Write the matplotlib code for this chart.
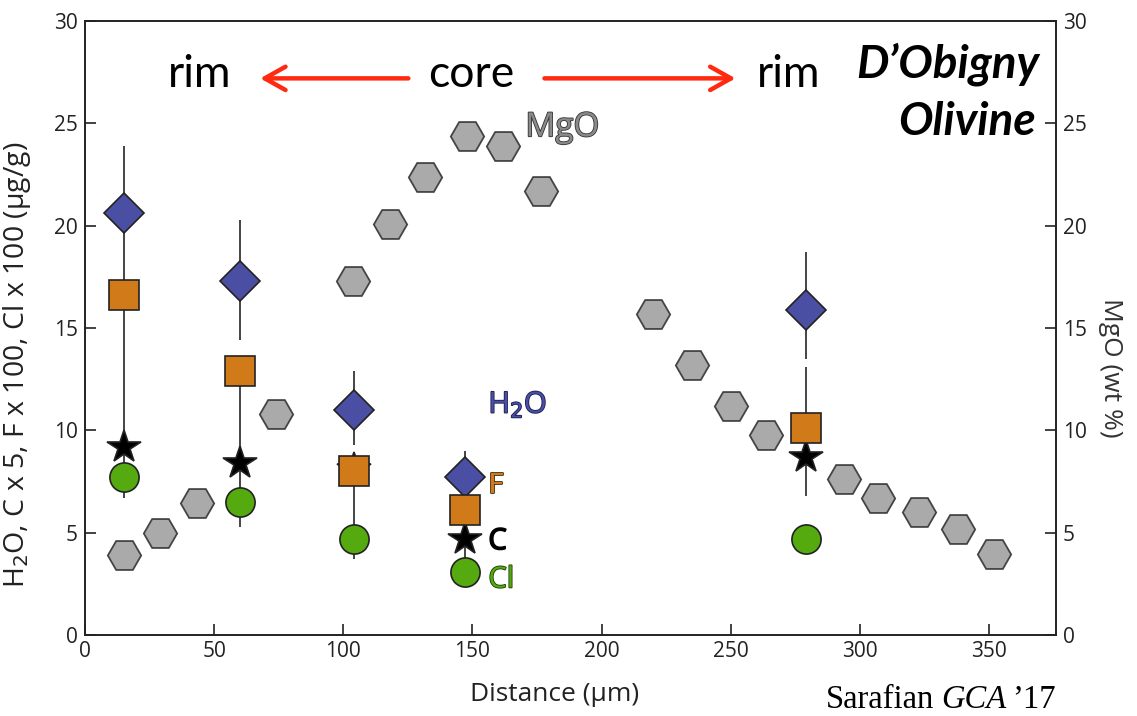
import numpy as np
import matplotlib.pyplot as plt
import matplotlib.patheffects as pe

# trace element profile across the olivine (left axis)
dist = [15, 60, 104, 147, 279]
h2o = [20.6, 17.3, 11.0, 7.7, 15.9]
fluor = [16.6, 12.9, 8.0, 6.1, 10.1]
carbon = [9.2, 8.4, 8.1, 4.7, 8.7]
chlor = [7.7, 6.5, 4.7, 3.1, 4.7]

# uncertainty segments (upper bar around H2O, lower bar down through F/C/Cl)
h2o_lo = [17.3, 14.4, 9.3, 6.9, 13.5]
h2o_hi = [23.9, 20.3, 12.9, 9.0, 18.7]
f_lo = [6.7, 5.3, 3.7, 3.2, 6.8]
f_hi = [16.6, 12.9, 8.0, 6.1, 13.1]

# MgO profile (right axis)
mgo_dist = [15.1, 29.1, 43.3, 74.0, 103.6, 118.2, 131.8, 147.9, 161.9, 176.6,
            219.9, 234.9, 250.0, 263.6, 293.7, 307.2, 323.0, 338.2, 351.8]
mgo = [3.9, 5.0, 6.45, 10.8, 17.3, 20.1, 22.4, 24.4, 23.9, 21.7,
       15.7, 13.2, 11.2, 9.75, 7.6, 6.7, 6.0, 5.2, 3.95]

xticks = [0, 50, 100, 150, 200, 250, 300, 350]
yticks = [0, 5, 10, 15, 20, 25, 30]

BLUE = '#4b4fa3'
ORANGE = '#d07a1a'
GREEN = '#55aa10'
GREY = '#aaaaaa'
EDGE = '#222222'

plt.rcParams['font.family'] = ['Open Sans', 'DejaVu Sans']

fig = plt.figure(figsize=(11.37, 7.16), dpi=100)
ax = fig.add_axes([0.0748, 0.1131, 0.854, 0.8575])
ax2 = ax.twinx()
ax.set_zorder(2)
ax2.set_zorder(1)
ax.patch.set_visible(False)

for a in (ax, ax2):
    a.set_xlim(0, 376)
    a.set_ylim(0, 30)
    for s in a.spines.values():
        s.set_linewidth(1.2)
        s.set_color(EDGE)

ax2.plot(mgo_dist, mgo, ls='none', marker='H', ms=24, mfc=GREY, mec='#444444',
         mew=1.3)

ax.vlines(dist, h2o_lo, h2o_hi, color='#444444', lw=1.4, zorder=2)
ax.vlines(dist, f_lo, f_hi, color='#444444', lw=1.4, zorder=2)

mk = dict(ls='none', mec=EDGE, mew=1.2, zorder=3)
ax.plot(dist, h2o, marker='D', ms=20, mfc=BLUE, **mk)
ax.plot(dist, carbon, marker='*', ms=25, mfc='black', **mk)
ax.plot(dist, fluor, marker='s', ms=21, mfc=ORANGE, **mk)
ax.plot(dist, chlor, marker='o', ms=21, mfc=GREEN, **mk)

ax.set_xticks(xticks)
ax.set_yticks(yticks)
ax2.set_yticks(yticks)
ax.tick_params(axis='both', direction='in', length=8, width=1.2, color=EDGE,
               labelsize=15, labelcolor='#222222', right=False, top=False)
ax.tick_params(axis='y', pad=5)
ax.tick_params(axis='x', pad=4)
ax2.tick_params(axis='y', direction='in', length=8, width=1.2, color=EDGE,
                labelsize=15, labelcolor='#222222', pad=5)

ax.set_xlabel('Distance (µm)', fontsize=19, color='#222222')
ax.xaxis.set_label_coords(0.484, -0.076)
ax.set_ylabel('H$_2$O, C x 5, F x 100, Cl x 100 (µg/g)', fontsize=20.5,
              color='#222222')
ax.yaxis.set_label_coords(-0.054, 0.44)
ax2.set_ylabel('MgO (wt %)', fontsize=19, color='#333333', rotation=270,
               va='center')
ax2.yaxis.set_label_coords(1.056, 0.435)

# rim / core annotation with red arrows
for x, s in [(44.2, 'rim'), (149.6, 'core'), (272.5, 'rim')]:
    ax.text(x, 27.4, s, fontsize=32, family='Lato', ha='center', va='center')
arrow = dict(arrowstyle='->,head_length=0.75,head_width=0.42', color='#ff2a10',
             lw=3.2, mutation_scale=20, shrinkA=0, shrinkB=0)
ax.annotate('', xy=(67.8, 27.2), xytext=(125.2, 27.2), arrowprops=arrow)
ax.annotate('', xy=(251.9, 27.2), xytext=(177.9, 27.2), arrowprops=arrow)

ax.text(369.4, 27.24, 'D\u2019Obigny', fontsize=33, family='Lato',
        weight='bold', style='italic', ha='right', va='baseline')
ax.text(368.2, 24.45, 'Olivine', fontsize=33, family='Lato',
        weight='bold', style='italic', ha='right', va='baseline')

# series labels
def label(x, y, s, color, edge, size=21, va='center'):
    ax.text(x, y, s, fontsize=size, color=color, ha='left', va=va,
            path_effects=[pe.withStroke(linewidth=1.2, foreground=edge)])

label(170.5, 24.37, 'MgO', '#8a8a8a', '#333333', size=24, va='baseline')
label(156.2, 10.86, 'H$_2$O', BLUE, '#1a1a50', va='baseline')
label(156.2, 7.29, 'F', ORANGE, '#3a2000')
label(156.2, 4.56, 'C', 'black', 'black')
label(156.2, 2.69, 'Cl', GREEN, '#1a3a00')

# citation, set piece by piece so the journal name can be italic
renderer = fig.canvas.get_renderer()
fig_w = fig.get_figwidth() * fig.dpi
x0, y0 = 0.7265, 0.0112
for s, st in [('Sarafian', 'normal'), ('GCA', 'italic'), ('\u201917', 'normal')]:
    t = fig.text(x0, y0, s, fontsize=23.5, family='Liberation Serif', style=st,
                 ha='left', va='baseline')
    x0 += t.get_window_extent(renderer).width / fig_w + 0.0058

fig.savefig('out.png', dpi=100)
